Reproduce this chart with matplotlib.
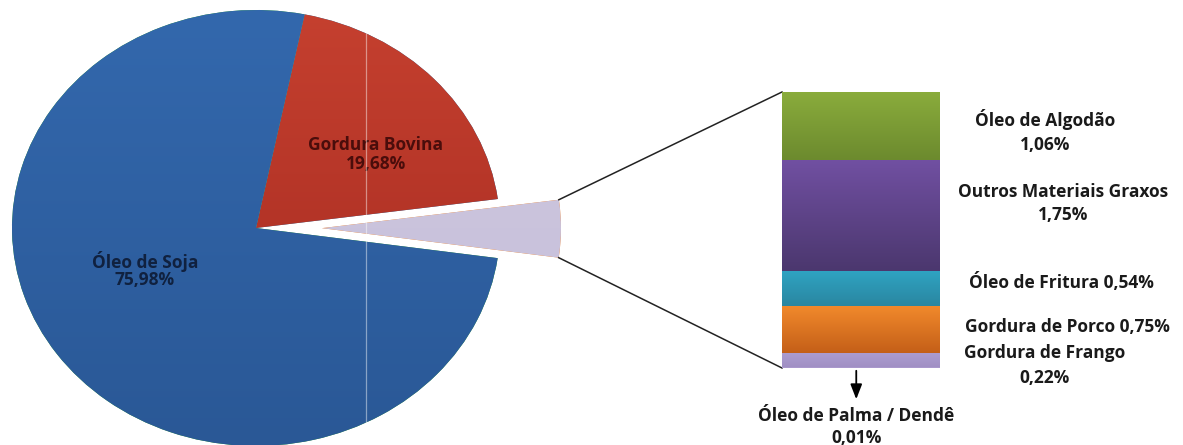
import numpy as np
import matplotlib
matplotlib.use("Agg")
import matplotlib.pyplot as plt
from matplotlib.colors import LinearSegmentedColormap

plt.rcParams['font.family'] = ['Open Sans', 'DejaVu Sans']

# composição das matérias-primas (%)
pie_labels = ["Gordura Bovina", "Outros", "Óleo de Soja"]
soja = 75.98
bovina = 19.68

sub_labels = ["Óleo de Palma / Dendê", "Gordura de Frango", "Gordura de Porco",
              "Óleo de Fritura", "Outros Materiais Graxos", "Óleo de Algodão"]
sub_values = [0.01, 0.22, 0.75, 0.54, 1.75, 1.06]
outros = sum(sub_values)
pie_values = [bovina, outros, soja]

pie_grad = [("#c5402f", "#a2281f"), ("#cdc6df", "#c7c0da"), ("#3368ad", "#2a5896")]
bar_grad = [("#ad9dd0", "#a392c6"), ("#ad9dd0", "#a08fc4"), ("#f28a2c", "#c45f18"),
            ("#2fa3c2", "#2a86a0"), ("#7150a2", "#4b376e"), ("#8aac3c", "#6c8a2e")]


def pct(v):
    return f"{v:.2f}".replace(".", ",") + "%"


def grad_img(ax, extent, c_top, c_bot, clip=None, z=3):
    cmap = LinearSegmentedColormap.from_list("g", [c_bot, c_top])
    img = np.linspace(0, 1, 256).reshape(-1, 1)
    im = ax.imshow(img, cmap=cmap, extent=extent, origin="lower",
                   aspect="auto", zorder=z, interpolation="bilinear")
    if clip is not None:
        im.set_clip_path(clip)
    return im


W, H = 1183, 445
fig = plt.figure(figsize=(W / 100, H / 100), dpi=100)

# pizza (elipse levemente achatada)
cx, cy, rx, ry = 256, 228, 244, 218
ax_pie = fig.add_axes([0, 0, 1, 1])
wedges, _ = ax_pie.pie(pie_values, startangle=78.5, counterclock=False,
                       explode=[0, 0.27, 0], radius=1,
                       wedgeprops=dict(linewidth=0))
ax_pie.set_aspect("auto")
ax_pie.set_xlim(-cx / rx, (W - cx) / rx)
ax_pie.set_ylim(-(H - cy) / ry, cy / ry)
ax_pie.axis("off")
wedges[1].set_radius(0.98)
for w, (ct, cb) in zip(wedges, pie_grad):
    grad_img(ax_pie, (-1.4, 1.4, -1.0, 1.0), ct, cb, clip=w)

# camada em pixels para textos e linhas
ax = fig.add_axes([0, 0, 1, 1], facecolor="none")
ax.set_xlim(0, W)
ax.set_ylim(H, 0)
ax.axis("off")


def to_px(src_ax, x, y):
    return ax.transData.inverted().transform(src_ax.transData.transform((x, y)))


# linha clara que atravessa a pizza
ax.plot([366, 366], [14, H], color="white", lw=0.9, alpha=0.45, zorder=5)

lab = dict(ha="center", va="center", fontsize=12.5, fontweight="bold")
ax.text(145, 262, pie_labels[2], color="#10213f", **lab)
ax.text(145, 280, pct(soja), color="#10213f", **lab)
ax.text(376, 145, pie_labels[0], color="#4a0d0b", **lab)
ax.text(376, 164, pct(bovina), color="#4a0d0b", **lab)

# barra empilhada com o detalhamento de "Outros"
bx0, bx1, by0, by1 = 782, 940, 92, 368
ax_bar = fig.add_axes([bx0 / W, (H - by1) / H, (bx1 - bx0) / W, (by1 - by0) / H])
ax_bar.set_xlim(-0.5, 0.5)
ax_bar.set_ylim(0, outros)
ax_bar.axis("off")
bottoms = np.concatenate([[0], np.cumsum(sub_values)[:-1]])
rects = ax_bar.bar(0, sub_values, bottom=bottoms, width=1, linewidth=0)
for r, (ct, cb) in zip(rects, bar_grad):
    x, y, w, h = r.get_x(), r.get_y(), r.get_width(), r.get_height()
    grad_img(ax_bar, (x, x + w, y, y + h), ct, cb)

# linhas de ligação entre a fatia e a barra
w = wedges[1]
t1, t2 = np.deg2rad(w.theta1), np.deg2rad(w.theta2)
wc = w.center
top_pt = to_px(ax_pie, wc[0] + w.r * np.cos(t2), wc[1] + w.r * np.sin(t2))
bot_pt = to_px(ax_pie, wc[0] + w.r * np.cos(t1), wc[1] + w.r * np.sin(t1))
bar_top = to_px(ax_bar, -0.5, outros)
bar_bot = to_px(ax_bar, -0.5, 0)
ax.plot([top_pt[0], bar_top[0]], [top_pt[1], bar_top[1]], color="#222222", lw=1.1)
ax.plot([bot_pt[0], bar_bot[0]], [bot_pt[1], bar_bot[1]], color="#222222", lw=1.1)

# rótulos da barra
txt = dict(ha="center", va="center", fontsize=12.5, fontweight="bold", color="#1a1a1a")
ax.text(1045, 120, sub_labels[5], **txt)
ax.text(1045, 145, pct(sub_values[5]), **txt)
ax.text(1063, 192, sub_labels[4], **txt)
ax.text(1063, 215, pct(sub_values[4]), **txt)
ax.text(1061, 282, f"{sub_labels[3]} {pct(sub_values[3])}", **txt)
ax.text(1067, 327, f"{sub_labels[2]} {pct(sub_values[2])}", **txt)
ax.text(1045, 353, sub_labels[1], **txt)
ax.text(1045, 378, pct(sub_values[1]), **txt)

bar_mid = to_px(ax_bar, -0.03, 0)
ax.annotate("", xy=(bar_mid[0], 402), xytext=(bar_mid[0], bar_mid[1]),
            arrowprops=dict(arrowstyle="-|>,head_width=0.35,head_length=0.9",
                            color="black", lw=1.3))
ax.text(bar_mid[0], 416, sub_labels[0], **txt)
ax.text(bar_mid[0], 438, pct(sub_values[0]), **txt)

fig.savefig("out.png", dpi=100)
